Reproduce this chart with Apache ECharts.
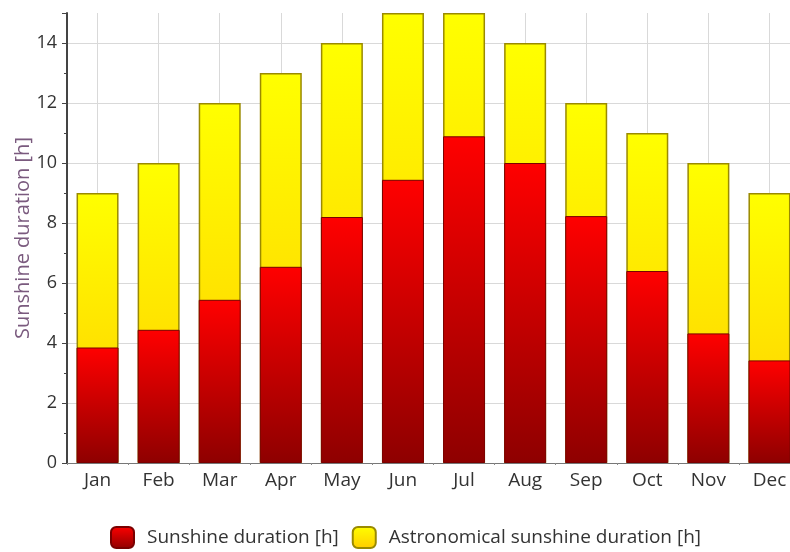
<!DOCTYPE html>
<html>
<head>
<meta charset="utf-8">
<script src="https://cdn.jsdelivr.net/npm/echarts@6/dist/echarts.min.js"></script>
<style>
html,body{margin:0;padding:0;background:#fff;}
#chart{width:790px;height:552px;}
</style>
</head>
<body>
<div id="chart"></div>
<script>
const categories = ['Jan','Feb','Mar','Apr','May','Jun','Jul','Aug','Sep','Oct','Nov','Dec'];
const sunshine = [3.85, 4.44, 5.44, 6.54, 8.2, 9.44, 10.89, 10.0, 8.23, 6.4, 4.32, 3.42];
const astronomical = [9, 10, 12, 13, 14, 15, 15, 14, 12, 11, 10, 9];
const yTicks = { min: 0, max: 15, interval: 2 };
const seriesNames = ['Sunshine duration [h]', 'Astronomical sunshine duration [h]'];

// half-category helper axis (for grid lines at category centres and minor ticks at boundaries)
const halfCategories = categories.flatMap(c => [c + '_a', c + '_b']);

const FONT = '"Open Sans", "Noto Sans", sans-serif';
const chart = echarts.init(document.getElementById('chart'), null, {renderer: 'canvas'});

const redGrad = new echarts.graphic.LinearGradient(0, 0, 0, 1, [
  {offset: 0, color: '#ff0000'},
  {offset: 1, color: '#8e0000'}
]);
const yellowGrad = new echarts.graphic.LinearGradient(0, 0, 0, 1, [
  {offset: 0, color: '#ffff00'},
  {offset: 1, color: '#ffcc00'}
]);

chart.setOption({
  animation: false,
  backgroundColor: '#ffffff',
  grid: {left: 67, right: -10, top: 13, bottom: 89, containLabel: false, outerBoundsMode: 'none'},
  legend: {
    data: seriesNames,
    bottom: 3,
    left: 110,
    padding: 0,
    icon: 'roundRect',
    itemWidth: 23,
    itemHeight: 21,
    itemGap: 13,
    textStyle: {fontFamily: FONT, fontSize: 19, color: '#333', padding: [0, 0, 0, 8]}
  },
  xAxis: [{
    type: 'category',
    data: categories,
    position: 'bottom',
    axisLine: {lineStyle: {color: '#777', width: 1}},
    axisTick: {alignWithLabel: true, length: 5, lineStyle: {color: '#666'}},
    axisLabel: {fontFamily: FONT, fontSize: 19, color: '#333', margin: 8},
    splitLine: {show: false}
  }, {
    type: 'category',
    data: halfCategories,
    position: 'bottom',
    axisLine: {show: false},
    axisTick: {show: true, length: 2, interval: (i) => i % 2 === 0, lineStyle: {color: '#888'}},
    axisLabel: {show: false},
    splitLine: {show: true, interval: (i) => i % 2 === 1, lineStyle: {color: '#d9d9d9', width: 1}}
  }],
  yAxis: {
    type: 'value',
    min: yTicks.min,
    max: yTicks.max,
    interval: yTicks.interval,
    name: 'Sunshine duration [h]',
    nameLocation: 'middle',
    nameGap: 34,
    nameMoveOverlap: false,
    nameTextStyle: {fontFamily: FONT, fontSize: 20, color: '#7a5a7e'},
    axisLine: {show: true, lineStyle: {color: '#444', width: 2}},
    axisTick: {show: true, length: 5, lineStyle: {color: '#444'}},
    minorTick: {show: true, splitNumber: 2, length: 3, lineStyle: {color: '#444'}},
    axisLabel: {fontFamily: FONT, fontSize: 18, color: '#333', margin: 10, showMaxLabel: false},
    splitLine: {show: true, showMaxLine: false, lineStyle: {color: '#d9d9d9', width: 1}}
  },
  series: [{
    name: seriesNames[0],
    type: 'bar',
    data: sunshine,
    barWidth: 42,
    barGap: '-100%',
    z: 4,
    itemStyle: {color: redGrad, borderColor: '#7a0000', borderWidth: 1}
  }, {
    name: seriesNames[1],
    type: 'bar',
    data: astronomical,
    barWidth: 42,
    barGap: '-100%',
    z: 3,
    itemStyle: {color: yellowGrad, borderColor: '#9a8a00', borderWidth: 1.5}
  }]
});
</script>
</body>
</html>
